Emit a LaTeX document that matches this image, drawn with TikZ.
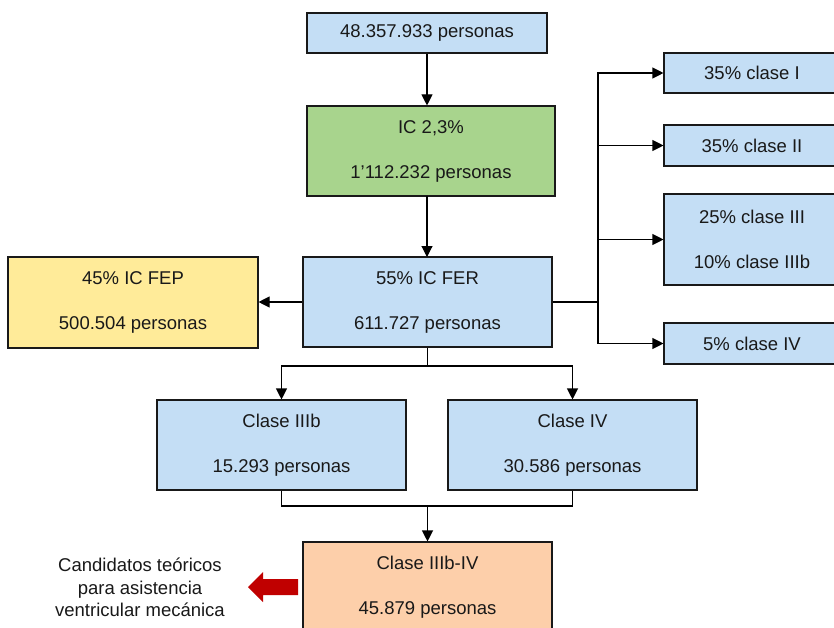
\documentclass[tikz,border=0pt]{standalone}
\usepackage{fontspec}
\setmainfont{Liberation Sans}
\usetikzlibrary{arrows.meta}
\definecolor{boxblue}{RGB}{196,222,245}
\definecolor{boxgreen}{RGB}{168,212,141}
\definecolor{boxyellow}{RGB}{255,235,153}
\definecolor{boxorange}{RGB}{253,207,170}
\definecolor{arrowred}{RGB}{192,0,0}
\tikzset{
  box/.style={draw=black!90, line width=1.1pt, inner sep=0pt, align=center,
    font=\fontsize{18.5}{22.5}\selectfont, text=black!90},
  bluebox/.style={box, fill=boxblue},
  arr/.style={line width=1.1pt, -{Triangle[length=11pt,width=11pt]}},
  ln/.style={line width=1.1pt},
}
\begin{document}
\begin{tikzpicture}[x=1pt,y=-1pt]
\useasboundingbox (0,0) rectangle (834,628);
\clip (0,0) rectangle (834,628);
\fill[white] (0,0) rectangle (834,628);

\node[bluebox, minimum width=240pt, minimum height=40pt] (top) at (427,33) {48.357.933 personas};
\node[box, fill=boxgreen, minimum width=248pt, minimum height=90pt] (ic) at (431,151) {IC 2,3\%\\[22.5pt]1’112.232 personas};
\node[bluebox, minimum width=249pt, minimum height=90pt] (fer) at (427.5,302) {55\% IC FER\\[22.5pt]611.727 personas};
\node[box, fill=boxyellow, minimum width=250pt, minimum height=91pt] (fep) at (133,302.5) {45\% IC FEP\\[22.5pt]500.504 personas};

\node[bluebox, minimum width=176pt, minimum height=40pt] (c1) at (752,73) {35\% clase I};
\node[bluebox, minimum width=176pt, minimum height=41pt] (c2) at (752,145.5) {35\% clase II};
\node[bluebox, minimum width=176pt, minimum height=91pt] (c3) at (752,239.5) {25\% clase III\\[22.5pt]10\% clase IIIb};
\node[bluebox, minimum width=176pt, minimum height=41pt] (c4) at (752,343.5) {5\% clase IV};

\node[bluebox, minimum width=249pt, minimum height=90pt] (c3b) at (281.5,445) {Clase IIIb\\[22.5pt]15.293 personas};
\node[bluebox, minimum width=249pt, minimum height=90pt] (civ) at (572.5,445) {Clase IV\\[22.5pt]30.586 personas};
\node[box, fill=boxorange, minimum width=249pt, minimum height=90pt] (bot) at (427.5,587) {Clase IIIb-IV\\[22.5pt]45.879 personas};

\node[align=center, font=\fontsize{18.5}{22.5}\selectfont, text=black!90] (lbl) at (140,587.5) {Candidatos teóricos\\para asistencia\\ventricular mecánica};

% connectors
\draw[arr] (top.south) -- (top.south |- ic.north);
\draw[arr] (427,196) -- (427,257);
\draw[arr] (fer.west) -- (fep.east |- fer.west);

\coordinate (br) at (598,302);
\draw[ln] (fer.east) -- (br);
\draw[arr] (br) |- (c1.west);
\draw[arr] (br) |- (c2.west);
\draw[arr] (br) |- (c3.west);
\draw[arr] (br) |- (c4.west);

\coordinate (sp) at (427.5,366);
\draw[ln] (fer.south) -- (sp);
\draw[arr] (sp) -| (c3b.north);
\draw[arr] (sp) -| (civ.north);

\coordinate (mg) at (427.5,506);
\draw[ln] (c3b.south) |- (mg) -| (civ.south);
\draw[arr] (mg) -- (bot.north);

% red block arrow
\fill[arrowred] (298,579) -- (263,579) -- (263,572) -- (248,587) -- (263,602) -- (263,595) -- (298,595) -- cycle;
\end{tikzpicture}
\end{document}
